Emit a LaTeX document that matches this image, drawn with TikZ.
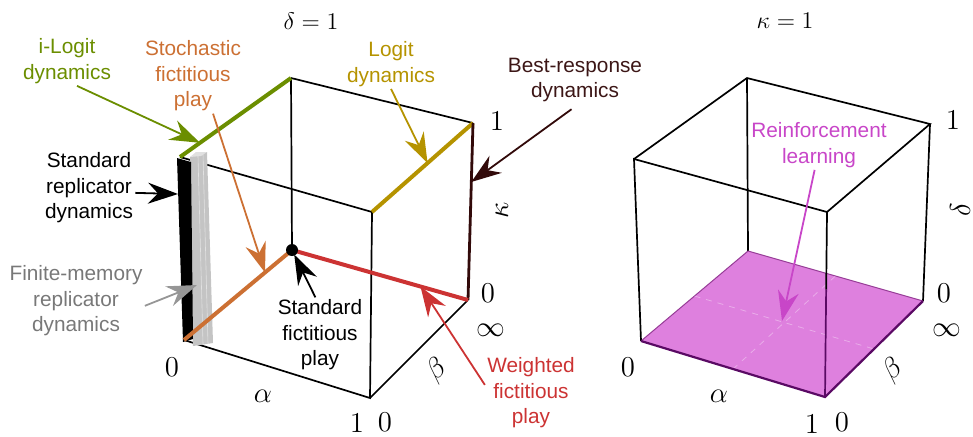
\documentclass[tikz,border=0pt]{standalone}
\usepackage{amsmath,amssymb}
\usepackage[no-math]{fontspec}
\setmainfont{Liberation Sans}
\usepackage{xcolor}
\usepackage{tikz}
\usetikzlibrary{arrows.meta,calc}

\definecolor{ilogitgreen}{RGB}{107,142,0}
\definecolor{sfporange}{RGB}{204,112,51}
\definecolor{logitgold}{RGB}{181,147,0}
\definecolor{brdark}{RGB}{50,10,10}
\definecolor{brtext}{RGB}{60,22,22}
\definecolor{wfpred}{RGB}{204,51,51}
\definecolor{fmgray}{RGB}{120,120,120}
\definecolor{fmarrow}{RGB}{150,150,150}
\definecolor{fmbar}{RGB}{196,196,196}
\definecolor{rlmagenta}{RGB}{200,70,200}
\definecolor{rlfill}{RGB}{222,128,222}
\definecolor{rlline}{RGB}{150,60,150}
\definecolor{rledge}{RGB}{90,10,100}

\begin{document}
\begin{tikzpicture}[x=0.5pt, y=-0.5pt,
    every node/.style={inner sep=1pt},
    cubeline/.style={line width=0.85pt},
    hotline/.style={line width=2pt},
    pointer/.style={line width=0.9pt, -{Stealth[length=15pt, width=10.5pt, inset=5pt]}},
    dyn/.style={align=center, font=\fontsize{10.4}{12.8}\selectfont},
    ticknum/.style={inner sep=0pt, font=\fontsize{14}{14}\selectfont},
    axisname/.style={font=\fontsize{15}{15}\selectfont},
    paneltitle/.style={font=\fontsize{12.5}{12.5}\selectfont}]

    \useasboundingbox (0,0) rectangle (973,436);

    % Left panel: delta = 1
    \begin{scope}
        \coordinate (L-O)   at (184,340);
        \coordinate (L-A)   at (370,398);
        \coordinate (L-AB)  at (468,300);
        \coordinate (L-B)   at (292,250);
        \coordinate (L-OK)  at (180,157);
        \coordinate (L-AK)  at (372,212);
        \coordinate (L-ABK) at (473,123);
        \coordinate (L-BK)  at (291,78);

        \node[paneltitle] (L-title) at (311,21) {$\delta = 1$};

        % Frame
        \draw[cubeline] (L-OK) -- (L-AK) -- (L-A) -- (L-O);
        \draw[cubeline] (L-A) -- (L-AB);
        \draw[cubeline] (L-BK) -- (L-ABK);
        \draw[cubeline] (L-BK) -- (L-B);

        % Replicator bars
        \fill[fmbar] (190,157) -- (207,152) -- (213,343) -- (193,346) -- cycle;
        \draw[white, opacity=0.5, line width=0.3pt] (198,156) -- (203,344);
        \draw[white, opacity=0.5, line width=0.3pt] (203,154) -- (208,344);
        \fill[black!12] (190,157) -- (196,152) -- (207,152) -- (201,156) -- cycle;
        \fill[black] (177,158) -- (191,162) -- (193,339) -- (183,342) -- cycle;
        \coordinate (L-bar) at (178,194);
        \coordinate (L-grey) at (197,285);

        % Special edges
        \draw[hotline, ilogitgreen] (L-OK) -- (L-BK);
        \draw[hotline, logitgold] (L-AK) -- (L-ABK);
        \draw[line width=1.4pt, brdark] (L-AB) -- (L-ABK);
        \draw[hotline, sfporange] (L-O) -- (L-B);
        \draw[hotline, wfpred] (L-B) -- (L-AB);
        \fill (L-B) circle (3pt);

        % Axes
        \node[ticknum] (L-k1) at (497,121) {$1$};
        \node[ticknum] (L-k0) at (488,293) {$0$};
        \node[ticknum] (L-binf) at (491,330) {$\infty$};
        \node[ticknum] (L-a0) at (172,367) {$0$};
        \node[ticknum] (L-a1) at (357,423) {$1$};
        \node[ticknum] (L-b0) at (385,422) {$0$};
        \node[axisname] (L-alpha) at (263,396) {$\alpha$};
        \node[axisname, rotate=40] (L-beta) at (437,370) {$\beta$};
        \node[axisname, rotate=90] (L-kappa) at (502,210) {$\kappa$};
    \end{scope}

    % Right panel: kappa = 1
    \begin{scope}[shift={(456,0)}]
        \coordinate (R-O)   at (185,341);
        \coordinate (R-A)   at (369,397);
        \coordinate (R-AB)  at (467,301);
        \coordinate (R-B)   at (292,251);
        \coordinate (R-OK)  at (178,159);
        \coordinate (R-AK)  at (371,212);
        \coordinate (R-ABK) at (474,124);
        \coordinate (R-BK)  at (291,78);

        \node[paneltitle] (R-title) at (329,21) {$\kappa = 1$};

        % Frame
        \draw[cubeline] (R-O) -- (R-OK) -- (R-AK);
        \draw[cubeline] (R-OK) -- (R-BK) -- (R-ABK) -- (R-AK);
        \draw[cubeline] (R-BK) -- (R-B);
        \draw[cubeline] (R-ABK) -- (R-AB);

        % Floor delta = 0
        \fill[rlfill] (R-O) -- (R-A) -- (R-AB) -- (R-B) -- cycle;
        \draw[line width=0.5pt, rlline] (R-O) -- (R-B) -- (R-AB);
        \draw[white, opacity=0.35, dashed, line width=0.4pt]
            ($(R-O)!0.5!(R-B)$) -- ($(R-A)!0.5!(R-AB)$);
        \draw[white, opacity=0.35, dashed, line width=0.4pt]
            ($(R-O)!0.5!(R-A)$) -- ($(R-B)!0.5!(R-AB)$);
        \draw[cubeline] (R-AK) -- ($(R-AK)!0.42!(R-A)$);
        \draw[cubeline, rledge] ($(R-AK)!0.42!(R-A)$) -- (R-A);
        \draw[line width=1.1pt, rledge] (R-O) -- (R-A) -- (R-AB);
        \coordinate (R-mid) at ($(R-O)!0.5!(R-AB)$);

        % Axes
        \node[ticknum] (R-d1) at (497,120) {$1$};
        \node[ticknum] (R-d0) at (488,293) {$0$};
        \node[ticknum] (R-binf) at (491,330) {$\infty$};
        \node[ticknum] (R-a0) at (172,367) {$0$};
        \node[ticknum] (R-a1) at (356,424) {$1$};
        \node[ticknum] (R-b0) at (386,422) {$0$};
        \node[axisname] (R-alpha) at (263,396) {$\alpha$};
        \node[axisname, rotate=40] (R-beta) at (437,370) {$\beta$};
        \node[axisname, rotate=90] (R-delta) at (504,210) {$\delta$};
    \end{scope}

    % Labels
    \node[dyn, ilogitgreen] (ilogit) at (67,61) {i-Logit\\dynamics};
    \node[dyn, sfporange] (sfp) at (193,76) {Stochastic\\fictitious\\play};
    \node[dyn, logitgold] (logit) at (391,64) {Logit\\dynamics};
    \node[dyn, brtext] (br) at (575,80) {Best-response\\dynamics};
    \node[dyn] (srd) at (89,188) {Standard\\replicator\\dynamics};
    \node[dyn, fmgray] (fmrd) at (76,301) {Finite-memory\\replicator\\dynamics};
    \node[dyn] (sfpl) at (320,335) {Standard\\fictitious\\play};
    \node[dyn, wfpred] (wfp) at (531,393) {Weighted\\fictitious\\play};
    \node[dyn, rlmagenta] (rl) at (819,145) {Reinforcement\\learning};

    % Pointers
    \draw[pointer, ilogitgreen] (ilogit.-68) -- ($(L-OK)!0.18!(L-BK)$);
    \draw[pointer, sfporange] (sfp.-62) -- ($(L-O)!0.75!(L-B)$);
    \draw[pointer, logitgold] (logit.south) -- ($(L-AK)!0.55!(L-ABK)$);
    \draw[pointer, brdark, shorten <=4pt] (br.-83) -- ($(L-AB)!0.667!(L-ABK)$);
    \draw[pointer] (srd.-6) -- (L-bar);
    \draw[pointer, fmarrow] (fmrd.-4) -- (L-grey);
    \draw[pointer, shorten >=2.5pt] (sfpl.97) -- (L-B);
    \draw[pointer, wfpred] (wfp.170) -- ($(L-B)!0.73!(L-AB)$);
    \draw[pointer, rlmagenta] (rl.-100) -- (R-mid);
\end{tikzpicture}
\end{document}
